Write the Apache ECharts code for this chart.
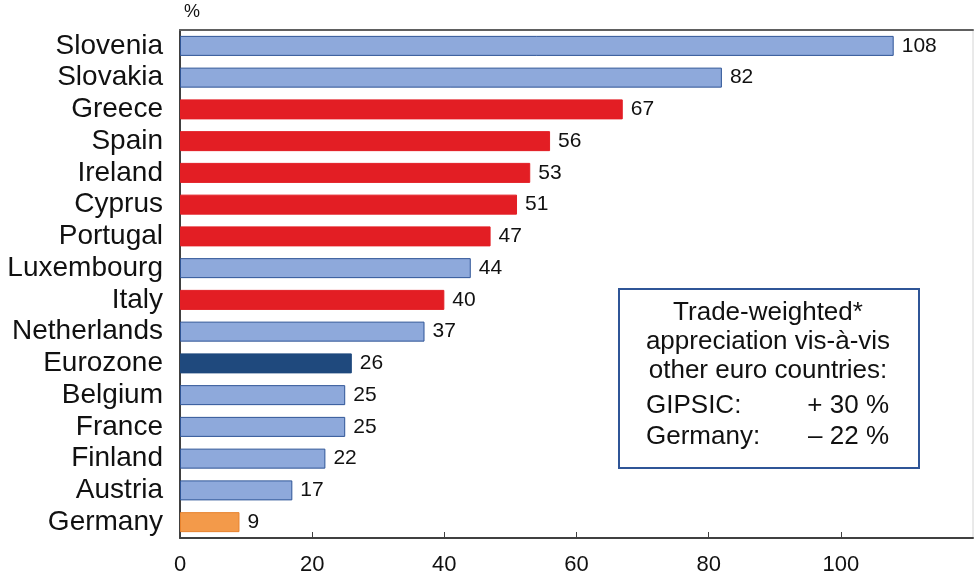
<!DOCTYPE html>
<html><head><meta charset="utf-8">
<script src="https://cdn.jsdelivr.net/npm/echarts@6/dist/echarts.min.js"></script>
<style>html,body{margin:0;padding:0;background:#fff}#c{width:974px;height:579px}</style>
</head><body><div id="c"></div>
<script>
const categories = ['Slovenia','Slovakia','Greece','Spain','Ireland','Cyprus','Portugal','Luxembourg','Italy','Netherlands','Eurozone','Belgium','France','Finland','Austria','Germany'];
const values = [108,82,67,56,53,51,47,44,40,37,26,25,25,22,17,9];
const groups = ['other','other','gipsic','gipsic','gipsic','gipsic','gipsic','other','gipsic','other','eurozone','other','other','other','other','germany'];
const xTicks = [0,20,40,60,80,100];
const noteLines = ['Trade-weighted*','appreciation vis-à-vis','other euro countries:'];
const noteRows = [['GIPSIC:','+ 30 %'],['Germany:','– 22 %']];

const styles = {
  other: {color:'#8EA9DB', borderColor:'#2F5597'},
  gipsic: {color:'#E31E24', borderColor:'#E31E24'},
  eurozone: {color:'#1F497D', borderColor:'#1F497D'},
  germany: {color:'#F39A4A', borderColor:'#E8832E'}
};
const font = 'Liberation Sans, Arial, sans-serif';
const chart = echarts.init(document.getElementById('c'));
const graphics = [{type:'rect',shape:{x:619,y:289,width:300,height:179},style:{fill:'#fff',stroke:'#2F5597',lineWidth:2}}];
const lineY = [313,342,371];
noteLines.forEach((t,i)=>graphics.push({type:'text',style:{text:t,x:768,y:lineY[i],align:'center',verticalAlign:'middle',font:'26px '+font,fill:'#111'}}));
const rowY = [406,437];
noteRows.forEach((r,i)=>{
  graphics.push({type:'text',style:{text:r[0],x:646,y:rowY[i],align:'left',verticalAlign:'middle',font:'26px '+font,fill:'#111'}});
  graphics.push({type:'text',style:{text:r[1],x:889,y:rowY[i],align:'right',verticalAlign:'middle',font:'26px '+font,fill:'#111'}});
});
graphics.push({type:'text',style:{text:'%',x:184,y:12,verticalAlign:'middle',font:'18px '+font,fill:'#111'}});

chart.setOption({
  animation:false,
  grid:{left:180,right:1,top:30,bottom:41,show:true,borderColor:'#d4d4d4',borderWidth:1},
  xAxis:[{
    type:'value',min:0,max:120,interval:20,position:'bottom',
    axisLine:{show:true,lineStyle:{color:'#404040',width:2}},
    axisTick:{show:true,inside:true,length:6,lineStyle:{color:'#404040'},customValues:xTicks},
    axisLabel:{fontSize:22,fontFamily:font,color:'#111',margin:16,customValues:xTicks},
    splitLine:{show:false}
  },{
    type:'value',min:0,max:120,position:'top',
    axisLine:{show:true,lineStyle:{color:'#606060',width:2}},
    axisTick:{show:false},axisLabel:{show:false},splitLine:{show:false}
  }],
  yAxis:{
    type:'category',data:categories,inverse:true,
    axisLine:{show:true,lineStyle:{color:'#404040',width:2}},
    axisTick:{show:false},
    axisLabel:{fontSize:28,fontFamily:font,color:'#111',margin:17,interval:0,hideOverlap:false}
  },
  series:[{
    type:'bar',xAxisIndex:0,
    data:values.map((v,i)=>({value:v,itemStyle:Object.assign({borderWidth:1},styles[groups[i]])})),
    barWidth:20,
    label:{show:true,position:'right',distance:8,fontSize:21,fontFamily:font,color:'#111'}
  }],
  graphic:graphics
});
</script></body></html>
